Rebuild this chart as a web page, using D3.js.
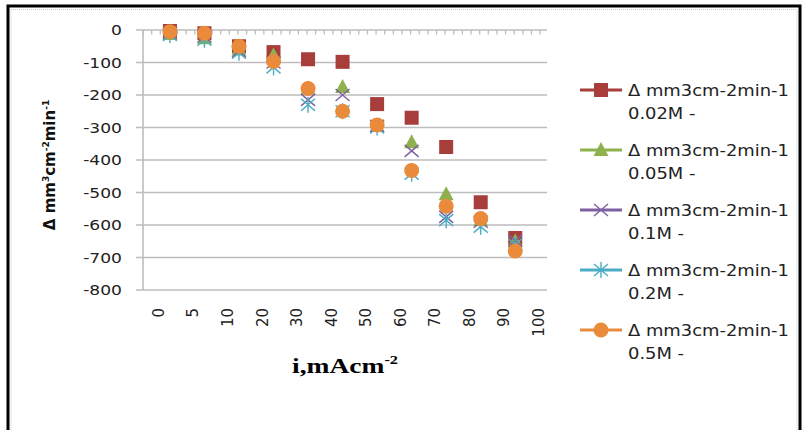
<!DOCTYPE html>
<html>
<head>
<meta charset="utf-8">
<script src="https://cdn.jsdelivr.net/npm/d3@7"></script>
<style>
  html, body { margin: 0; padding: 0; background: #fff; }
  svg { display: block; }
</style>
</head>
<body>
<svg id="chart" width="806" height="430"></svg>
<script>
// ---- data ----
const xLabels = ["0","5","10","20","30","40","50","60","70","80","90","100"];
const yTicks = [0,-100,-200,-300,-400,-500,-600,-700,-800];
const s002 = [-3,-10,-50,-68,-90,-98,-228,-270,-360,-530,-640];
const s005 = [-12,-25,-60,-78,-180,-175,-295,-345,-505,-585,-650];
const s01  = [-10,-20,-65,-100,-215,-200,-295,-372,-575,-590,-648];
const s02  = [-15,-30,-70,-115,-230,-250,-300,-442,-585,-605,-660];
const s05  = [-5,-10,-50,-97,-180,-250,-292,-432,-542,-580,-680];
const seriesNames = ["0.02M -","0.05M -","0.1M -","0.2M -","0.5M -"];
const legendLabel = "\u0394 mm3cm-2min-1";

const series = [
  {name: seriesNames[0], values: s002, color: "#A83E3B", marker: "square"},
  {name: seriesNames[1], values: s005, color: "#8EB14E", marker: "triangle"},
  {name: seriesNames[2], values: s01,  color: "#7D60A0", marker: "x"},
  {name: seriesNames[3], values: s02,  color: "#4BACC6", marker: "star"},
  {name: seriesNames[4], values: s05,  color: "#E98B3A", marker: "circle"}
];

const svg = d3.select("#chart");

// frame
svg.append("rect").attr("x",0).attr("y",0).attr("width",806).attr("height",430).attr("fill","#fff");
svg.append("rect").attr("x",11).attr("y",9.5).attr("width",786).attr("height",425)
  .attr("fill","none").attr("stroke","#c8c8c8").attr("stroke-width",1).attr("stroke-dasharray","1,1");
svg.append("path").attr("d","M8,432 L8,6 L800,6 L800,432")
  .attr("fill","none").attr("stroke","#000").attr("stroke-width",3);

// scales
const plotL = 143, plotR = 547, plotT = 30, plotB = 290;
const x = d3.scaleLinear().domain([0, 11.7]).range([plotL, plotR]);
const y = d3.scaleLinear().domain([-800, 0]).range([plotB, plotT]);
const labelOffset = 0.45, pointOffset = 0.78;

// gridlines
const g = svg.append("g");
g.selectAll("line.grid").data(yTicks).enter().append("line")
  .attr("x1", plotL - 7).attr("x2", plotR)
  .attr("y1", d => y(d)).attr("y2", d => y(d))
  .attr("stroke", "#BDBDBD").attr("stroke-width", 1.6);
// y axis line
g.append("line").attr("x1",plotL).attr("x2",plotL).attr("y1",y(0)).attr("y2",y(-800))
  .attr("stroke","#BDBDBD").attr("stroke-width",1.6);
// minor tick marks hanging from the zero line
g.selectAll("line.tick").data(d3.range(0, 11.71, 0.25)).enter().append("line")
  .attr("x1", d => x(d)).attr("x2", d => x(d))
  .attr("y1", y(0)).attr("y2", y(0) + 4.5)
  .attr("stroke", "#BDBDBD").attr("stroke-width", 1.3);

// y tick labels
g.selectAll("text.ytick").data(yTicks).enter().append("text")
  .attr("transform", d => `translate(122,${y(d)}) scale(1.18,1)`)
  .attr("dy","0.36em")
  .attr("text-anchor","end")
  .attr("font-family","DejaVu Sans, sans-serif")
  .attr("font-size",14.5)
  .attr("fill","#222")
  .text(d => d);

// x tick labels (rotated)
g.selectAll("text.xtick").data(xLabels).enter().append("text")
  .attr("transform", (d,i) => `translate(${x(i + labelOffset)},308) rotate(-90)`)
  .attr("dy","0.36em")
  .attr("text-anchor","end")
  .attr("font-family","DejaVu Sans, sans-serif")
  .attr("font-size",15)
  .attr("fill","#222")
  .text(d => d);

// axis titles
const xt = svg.append("text")
  .attr("transform","translate(345,373) scale(1.25,1)")
  .attr("text-anchor","middle")
  .attr("font-family","Liberation Serif, serif")
  .attr("font-weight","bold")
  .attr("font-size",22)
  .attr("fill","#000");
xt.append("tspan").text("i,mAcm");
xt.append("tspan").attr("font-size",13).attr("dy",-9).text("-2");

const yt = svg.append("text")
  .attr("transform","translate(55,165) rotate(-90)")
  .attr("text-anchor","middle")
  .attr("font-family","DejaVu Sans, sans-serif")
  .attr("font-weight","bold")
  .attr("font-size",15)
  .attr("fill","#111");
yt.append("tspan").text("\u0394 mm");
yt.append("tspan").attr("font-size",9).attr("dy",-6).text("3");
yt.append("tspan").attr("dy",6).text("cm");
yt.append("tspan").attr("font-size",9).attr("dy",-6).text("-2");
yt.append("tspan").attr("dy",6).text("min");
yt.append("tspan").attr("font-size",9).attr("dy",-6).text("-1");

// markers
function drawMarker(sel, type, color) {
  if (type === "square") {
    sel.append("rect").attr("x",-7).attr("y",-7).attr("width",14).attr("height",14)
      .attr("fill",color);
  } else if (type === "circle") {
    sel.append("circle").attr("r",7.5).attr("fill",color);
  } else if (type === "triangle") {
    sel.append("path").attr("d","M0,-8 L7.5,6 L-7.5,6 Z").attr("fill",color);
  } else if (type === "x") {
    sel.append("path").attr("d","M-7,-6 L7,6 M-7,6 L7,-6")
      .attr("stroke",color).attr("stroke-width",1.4).attr("fill","none");
  } else if (type === "star") {
    sel.append("path").attr("d","M-7,-6 L7,6 M-7,6 L7,-6 M0,-8 L0,8")
      .attr("stroke",color).attr("stroke-width",1.4).attr("fill","none");
  }
}

series.forEach(s => {
  const grp = svg.append("g");
  s.values.forEach((v, k) => {
    const m = grp.append("g").attr("transform", `translate(${x(k + pointOffset)},${y(v)})`);
    drawMarker(m, s.marker, s.color);
  });
});

// legend
const leg = svg.append("g");
series.forEach((s, i) => {
  const ly = 90 + i * 60;
  const item = leg.append("g").attr("transform", `translate(0,${ly})`);
  item.append("line").attr("x1",580).attr("x2",622).attr("y1",0).attr("y2",0)
    .attr("stroke", s.color).attr("stroke-width",3.2);
  const m = item.append("g").attr("transform","translate(601,0)");
  drawMarker(m, s.marker, s.color);
  item.append("text")
    .attr("transform","translate(628,0) scale(1.12,1)")
    .attr("dy","0.36em")
    .attr("font-family","DejaVu Sans, sans-serif")
    .attr("font-size",16)
    .attr("fill","#222")
    .text(legendLabel);
  item.append("text")
    .attr("transform","translate(628,23) scale(1.12,1)")
    .attr("dy","0.36em")
    .attr("font-family","DejaVu Sans, sans-serif")
    .attr("font-size",16)
    .attr("fill","#222")
    .text(s.name);
});
</script>
</body>
</html>
